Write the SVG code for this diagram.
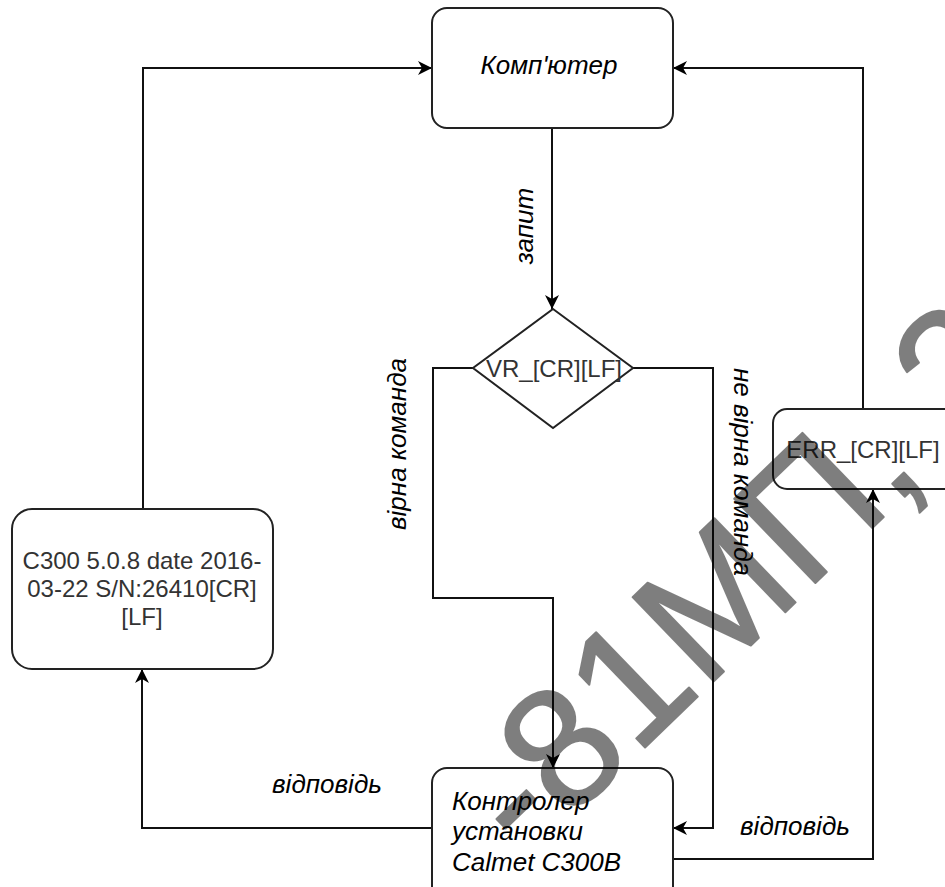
<svg xmlns="http://www.w3.org/2000/svg" width="945" height="887" viewBox="0 0 945 887">
<defs>
<marker id="arr" markerUnits="userSpaceOnUse" markerWidth="16" markerHeight="14" refX="14" refY="7" orient="auto">
<path d="M0,0 L14,7 L0,14 L4,7 Z" fill="#000"/>
</marker>
<style>
.box{fill:#fff;stroke:#222;stroke-width:2}
.edge{fill:none;stroke:#111;stroke-width:2;marker-end:url(#arr)}
.t{font-family:"Liberation Sans",Arial,sans-serif;font-size:24px;fill:#333}
.it{font-family:"Liberation Sans",Arial,sans-serif;font-size:26px;font-style:italic;fill:#000}
.wm{font-family:"Liberation Sans",Arial,sans-serif;font-size:170px;fill:#000;stroke:#000;stroke-width:2;stroke-linejoin:round}
</style>
</defs>
<rect width="945" height="887" fill="#fff"/>
<g id="connectors">
<path class="edge" d="M552,128 V309"/>
<path class="edge" d="M473,368 H433 V598 H553 V768"/>
<path class="edge" d="M633,368 H713 V828 H673"/>
<path class="edge" d="M673,859 H873 V489"/>
<path class="edge" d="M863,409 V68 H673"/>
<path class="edge" d="M432,828 H142 V669"/>
<path class="edge" d="M143,509 V68 H432"/>
</g>
<g id="computer">
<rect class="box" x="432" y="8" width="241" height="120" rx="15"/>
<text class="it" x="549" y="74" text-anchor="middle">Комп'ютер</text>
</g>
<g id="decision">
<polygon class="box" points="553,309 633,368 553,428 473,368"/>
<text class="t" x="554" y="377" text-anchor="middle">VR_[CR][LF]</text>
</g>
<g id="err">
<rect class="box" x="773" y="409" width="185" height="80" rx="14"/>
<text class="t" x="863" y="458" text-anchor="middle">ERR_[CR][LF]</text>
</g>
<g id="version">
<rect class="box" x="12" y="509" width="261" height="160" rx="20"/>
<text class="t" text-anchor="middle"><tspan x="142" y="569">C300 5.0.8 date 2016-</tspan><tspan x="142" y="597">03-22 S/N:26410[CR]</tspan><tspan x="142" y="625">[LF]</tspan></text>
</g>
<g id="controller">
<rect class="box" x="432" y="768" width="241" height="140" rx="15"/>
<text class="it"><tspan x="452" y="810">Контролер</tspan><tspan x="452" y="840">установки</tspan><tspan x="452" y="871">Calmet C300B</tspan></text>
</g>
<g id="labels">
<text class="it" transform="translate(533,226) rotate(-90)" text-anchor="middle">запит</text>
<text class="it" transform="translate(406,444) rotate(-90)" text-anchor="middle">вірна команда</text>
<text class="it" transform="translate(734,472) rotate(90)" text-anchor="middle">не вірна команда</text>
<text class="it" x="327" y="793" text-anchor="middle">відповідь</text>
<text class="it" x="795" y="835" text-anchor="middle">відповідь</text>
</g>
<g id="watermark" opacity="0.5">
<text class="wm" x="-57" y="0" transform="translate(568,822) rotate(-44)">-81МП, 2</text>
</g>
</svg>
